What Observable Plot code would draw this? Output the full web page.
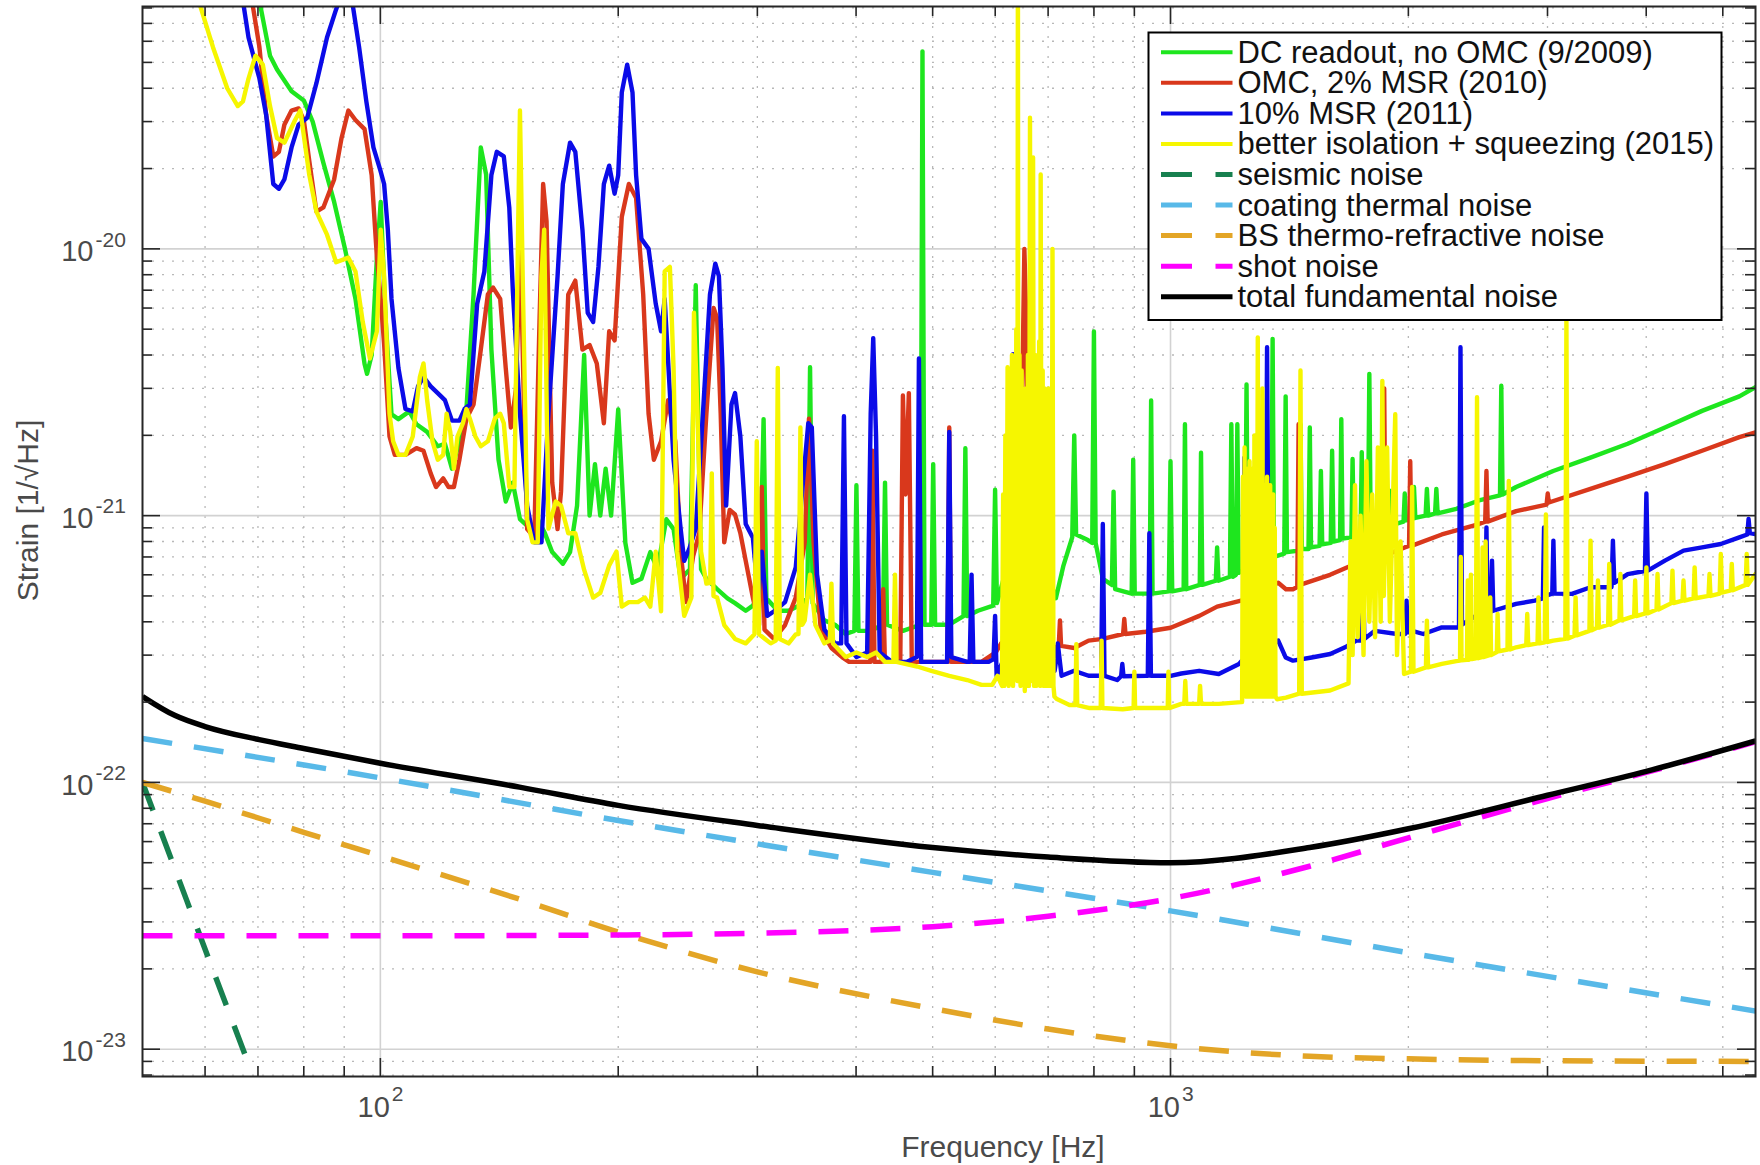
<!DOCTYPE html>
<html>
<head>
<meta charset="utf-8">
<script src="https://cdn.jsdelivr.net/npm/d3@7"></script>
<script src="https://cdn.jsdelivr.net/npm/@observablehq/plot@0.6"></script>
<style>
  html, body { margin: 0; padding: 0; background: #ffffff; }
  svg { display: block; }
</style>
</head>
<body>
<div id="chart"></div>
<script>
// ---------------- DATA (frequency [Hz], strain [1/sqrt(Hz)]) ----------------
const greenDC2009 = [
[50,3.0e-19],[62,1.8e-19],[68,1.1e-19],[70.3,8.5e-20],[72.5,5.3e-20],[74.0,4.7e-20],[77.2,3.9e-20],[80.0,3.6e-20],[82.1,3.0e-20],[84.7,2.1e-20],[87.4,1.5e-20],[90.2,1.0e-20],[93.0,6.5e-21],[95.5,3.7e-21],[96.2,3.4e-21],[97.5,4.0e-21],[99.0,9.3e-21],[100.1,1.5e-20],[101.6,5.3e-21],[103.3,2.4e-21],[105.4,2.3e-21],[108.8,2.46e-21],[111.1,2.2e-21],[114.6,2.06e-21],[118.2,1.82e-21],[120.7,1.86e-21],[123.2,1.5e-21],[125.9,1.9e-21],[128.5,2.5e-21],[131.2,6.75e-21],[134.0,2.4e-20],[136.1,1.9e-20],[138.2,4.2e-21],[141.1,1.62e-21],[144.1,1.13e-21],[147.1,1.33e-21],[150.2,9.7e-22],[155.0,8.9e-22],[158.2,9.7e-22],[161.5,8.6e-22],[165.0,7.3e-22],[170.2,6.6e-22],[173.8,7.3e-22],[177.4,1.09e-21],[181.1,4.0e-21],[184.0,1.0e-21],[186.9,1.56e-21],[189.8,1.0e-21],[192.8,1.5e-21],[195.9,1.0e-21],[200.0,2.5e-21],[204.2,7.9e-22],[208.5,5.6e-22],[214.0,5.8e-22],[219.6,7.3e-22],[224.2,6.3e-22],[230.1,9.7e-22],[235.0,8.9e-22],[239.9,5.8e-22],[246.5,6.3e-22],[250.7,7.3e-21],[254.6,6.3e-22],[258.6,5.8e-22],[266.8,5.3e-22],[275,4.9e-22],[281.1,4.7e-22],[290,4.4e-22],[296.1,4.6e-22],[302,5.1e-22],[305.5,2.3e-21],[308,4.9e-22],[318.4,4.4e-22],[328.6,4.4e-22],[339,4.6e-22],[347,4.9e-22],[349.8,3.6e-21],[352.5,4.7e-22],[364.7,4.05e-22],[376.2,3.9e-22],[388.1,3.6e-22],[398,3.7e-22],[400.4,1.3e-21],[402.8,3.7e-22],[417.4,3.7e-22],[432.5,3.9e-22],[435.2,1.33e-21],[437.8,3.9e-22],[458.5,3.7e-22],[482.5,3.9e-22],[485.4,5.5e-20],[488.3,3.9e-22],[498,3.9e-22],[500.8,1.56e-21],[503.6,3.9e-22],[524.8,3.9e-22],[547,4.2e-22],[550.0,1.79e-21],[553,4.2e-22],[570.5,4.4e-22],[596.5,4.6e-22],[599.8,1.25e-21],[603,4.7e-22],[616.8,6.0e-22],[650,6.0e-22],[700,6.0e-22],[716,4.9e-22],[732,6.5e-22],[751,8.3e-22],[755.4,2.0e-21],[759.5,8.5e-22],[786,8.1e-22],[796,7.9e-22],[800.0,4.9e-21],[804,7.9e-22],[821,5.8e-22],[843,5.5e-22],[847.1,1.23e-21],[851,5.3e-22],[893,5.1e-22],[897,1.62e-21],[901,5.1e-22],[930.5,5.1e-22],[941,5.1e-22],[945.1,2.7e-21],[949,5.1e-22],[995,5.2e-22],[1000,1.6e-21],[1005,5.2e-22],[1039,5.3e-22],[1043,2.2e-21],[1047,5.3e-22],[1089,5.5e-22],[1093,1.72e-21],[1097,5.5e-22],[1141,5.7e-22],[1145.5,7.6e-22],[1150,5.7e-22],[1189,5.9e-22],[1194,2.2e-21],[1199,5.9e-22],[1210,6.0e-22],[1215,2.2e-21],[1220,6.1e-22],[1243,6.3e-22],[1248,3.1e-21],[1253,6.4e-22],[1300,6.8e-22],[1341,6.9e-22],[1346.6,4.6e-21],[1352,7.0e-22],[1393,7.2e-22],[1398.7,2.8e-21],[1404,7.3e-22],[1455,7.4e-22],[1460.5,2.2e-21],[1466,7.5e-22],[1495,7.5e-22],[1500.7,2.14e-21],[1506,7.6e-22],[1544,7.7e-22],[1550,1.47e-21],[1556,7.8e-22],[1595,7.9e-22],[1601.5,1.75e-21],[1608,8.0e-22],[1639,8.1e-22],[1645,2.3e-21],[1651,8.2e-22],[1694,8.3e-22],[1700,1.63e-21],[1706,8.4e-22],[1740,8.5e-22],[1746,1.73e-21],[1752,8.6e-22],[1778,8.7e-22],[1785,3.4e-21],[1792,8.8e-22],[1887,9.1e-22],[1894,1.24e-21],[1901,9.2e-22],[1972,9.5e-22],[1979,1.21e-21],[1986,9.6e-22],[2025,9.7e-22],[2033,1.28e-21],[2041,9.8e-22],[2103,1.0e-21],[2111,1.26e-21],[2119,1.0e-21],[2162,1.02e-21],[2170,1.26e-21],[2178,1.02e-21],[2300,1.06e-21],[2457,1.14e-21],[2612,1.19e-21],[2622,3.07e-21],[2632,1.2e-21],[2738,1.28e-21],[3050,1.47e-21],[3400,1.65e-21],[3790,1.86e-21],[4224,2.14e-21],[4707,2.47e-21],[5247,2.8e-21],[5500,3.03e-21]
];

const redOMC2010 = [
[50,3.0e-19],[62,1.3e-19],[68.8,8.5e-20],[70.3,5.7e-20],[71.7,3.17e-20],[73.2,2.22e-20],[74.4,2.31e-20],[75.6,2.92e-20],[77.2,3.3e-20],[78.8,3.36e-20],[80.0,3.04e-20],[81.3,2.13e-20],[83.0,1.38e-20],[84.7,1.43e-20],[87.4,1.82e-20],[89.3,2.6e-20],[91.1,3.3e-20],[93.0,3.04e-20],[95.5,2.81e-20],[97.5,1.89e-20],[99.0,9.3e-21],[100.1,6.5e-21],[101.1,4.4e-21],[102.7,1.98e-21],[104.3,1.69e-21],[107.6,1.69e-21],[111.1,1.79e-21],[113.4,1.75e-21],[115.8,1.44e-21],[117.6,1.28e-21],[120.1,1.38e-21],[122.0,1.28e-21],[123.9,1.28e-21],[125.9,1.62e-21],[128.5,2.31e-21],[131.2,2.61e-21],[134.0,4.19e-21],[136.8,6.75e-21],[138.9,7.16e-21],[141.8,6.49e-21],[144.1,3.58e-21],[146.3,2.14e-21],[148.5,3.0e-21],[150.3,1.1e-20],[152,2.5e-21],[153.4,8.9e-22],[156.6,8.3e-22],[159,5.3e-21],[160.7,1.75e-20],[162.3,1.27e-20],[165.0,1.33e-21],[167.6,8.9e-22],[169.3,1.23e-21],[172.9,6.75e-21],[176.5,7.6e-21],[180.2,4.19e-21],[184.0,4.36e-21],[187.9,3.72e-21],[191.8,2.22e-21],[194.8,4.91e-21],[197.9,4.54e-21],[202.1,1.32e-20],[206.3,1.75e-20],[210.7,1.55e-20],[215.1,6.75e-21],[218.5,2.41e-21],[221.9,1.62e-21],[226.6,1.9e-21],[231.3,2.71e-21],[236.2,1.9e-21],[239.9,7.3e-22],[243.7,4.74e-22],[248.8,7.05e-22],[253.3,8.6e-22],[258.6,2.41e-21],[264.1,6.0e-21],[266.8,5.5e-21],[269.6,2.41e-21],[272.4,7.94e-22],[276.8,1.05e-21],[281.1,1.01e-21],[285.5,8.6e-22],[290.0,6.77e-22],[296.1,4.93e-22],[301.5,3.89e-22],[303.9,1.28e-21],[306.3,3.74e-22],[315,3.45e-22],[325.2,3.89e-22],[335.5,4.93e-22],[344.4,7.94e-22],[348.7,2.31e-21],[353.4,7.94e-22],[360.9,3.74e-22],[372.3,3.19e-22],[384,2.95e-22],[392,2.83e-22],[417,2.83e-22],[419.6,1.75e-21],[422,2.83e-22],[431,2.83e-22],[433,5.3e-22],[435,2.83e-22],[455,2.83e-22],[458.5,2.82e-21],[462,1.2e-21],[466.5,2.88e-21],[470.5,2.83e-22],[498.2,2.83e-22],[522,2.83e-22],[524.8,2.14e-21],[527.5,2.83e-22],[552.9,2.83e-22],[576.5,2.83e-22],[601,3.07e-22],[610.5,3.32e-22],[616.8,3.07e-22],[633.1,3.59e-22],[646,1.09e-21],[653.2,1.0e-20],[657,5.3e-21],[663.4,4.93e-22],[680.9,4.05e-22],[713.4,3.19e-22],[722,3.25e-22],[724.6,4.05e-22],[727,3.25e-22],[755.4,3.19e-22],[787.6,3.4e-22],[821,3.45e-22],[871,3.6e-22],[874,4.1e-22],[877,3.6e-22],[930.5,3.67e-22],[1000.5,3.8e-22],[1087.5,4.21e-22],[1145.5,4.56e-22],[1228,4.8e-22],[1300,5.2e-22],[1368.7,5.6e-22],[1400,5.3e-22],[1429,5.3e-22],[1447,5.4e-22],[1452.5,2.2e-21],[1458,5.5e-22],[1592,6.0e-22],[1756,6.8e-22],[1857,7.1e-22],[1864,3.0e-21],[1871,7.1e-22],[1979,7.6e-22],[2004,7.7e-22],[2011,1.6e-21],[2018,7.7e-22],[2205,8.5e-22],[2457,9.3e-22],[2502,9.5e-22],[2511,1.47e-21],[2520,9.5e-22],[2738,1.04e-21],[2992,1.1e-21],[3002,1.21e-21],[3012,1.12e-21],[3400,1.26e-21],[3790,1.4e-21],[4224,1.56e-21],[4707,1.75e-21],[5247,1.97e-21],[5500,2.05e-21]
];

const blueMSR2011 = [
[50,4.0e-19],[60,1.5e-19],[67.0,8.5e-20],[68.1,6.2e-20],[70.3,4.35e-20],[71.7,3.17e-20],[73.2,1.75e-20],[74.4,1.68e-20],[75.6,1.82e-20],[77.2,2.4e-20],[78.8,2.92e-20],[80.8,3.1e-20],[83.0,4.18e-20],[85.6,6.2e-20],[87.9,7.9e-20],[90.2,9.8e-20],[92.1,8.5e-20],[94,5.7e-20],[96.0,3.57e-20],[98.0,2.4e-20],[100,1.97e-20],[101.1,1.75e-20],[102.2,1.18e-20],[103.3,6.49e-21],[105.4,3.58e-21],[107.6,2.51e-21],[109.9,2.46e-21],[111.6,3.05e-21],[113.4,3.31e-21],[115.8,3.05e-21],[118.2,2.88e-21],[120.7,2.71e-21],[123.2,2.27e-21],[125.9,2.27e-21],[127.8,2.51e-21],[129.8,2.61e-21],[132.6,6.23e-21],[135.4,8.23e-21],[138.2,1.89e-20],[140.4,2.31e-20],[143.3,2.22e-20],[145.6,1.43e-20],[147.1,7.02e-21],[150.2,2.41e-21],[153.4,1.09e-21],[156.6,7.94e-22],[159.9,7.94e-22],[163.2,2.41e-21],[167.6,7.91e-21],[170.2,1.75e-20],[173.8,2.5e-20],[176.5,2.31e-20],[180.2,1.18e-20],[183.0,5.76e-21],[185.9,5.32e-21],[188.8,8.56e-21],[191.8,1.75e-20],[194.8,2.05e-20],[197.9,1.61e-20],[200.0,1.89e-20],[202.1,3.86e-20],[205.3,4.9e-20],[208.5,3.86e-20],[210.7,1.89e-20],[214.0,1.09e-20],[218.5,1.0e-20],[223.1,6.23e-21],[226.6,4.91e-21],[229.0,6.49e-21],[235.0,1.62e-21],[239.9,8.94e-22],[242.4,6.77e-22],[246,7.5e-22],[250.7,8.94e-22],[256,2.41e-21],[261.3,6.75e-21],[265.4,8.8e-21],[268.2,7.91e-21],[271,3.58e-21],[273.9,1.09e-21],[278.2,2.61e-21],[281.1,2.88e-21],[285.5,1.98e-21],[290.0,9.3e-22],[296.1,8.26e-22],[300.8,4.93e-22],[303.9,7.33e-22],[308.7,4.21e-22],[315,4.38e-22],[325.2,4.74e-22],[335.5,6.4e-22],[342.6,1.33e-21],[348.0,2.22e-21],[351.6,2.14e-21],[357,6.01e-22],[364.7,3.74e-22],[376.2,3.32e-22],[383,3.32e-22],[386.1,2.36e-21],[389,3.32e-22],[400.4,2.95e-22],[413.1,3.07e-22],[417.4,2.41e-21],[420.5,4.63e-21],[424,1.98e-21],[428.5,3.07e-22],[444.4,2.83e-22],[463.4,2.83e-22],[477.5,2.95e-22],[480.4,3.88e-21],[483.5,2.83e-22],[498.2,2.83e-22],[521.5,2.83e-22],[524.8,2.06e-21],[528,2.95e-22],[552.9,2.83e-22],[557,2.83e-22],[560,6.0e-22],[563,2.83e-22],[588.6,2.83e-22],[597,2.9e-22],[599.8,4.21e-22],[602.5,2.51e-22],[620,3.07e-22],[628,3.2e-22],[632,4.03e-21],[636,3.2e-22],[660,3.0e-22],[695,3.0e-22],[698,2.2e-21],[701,3.0e-22],[713.4,2.62e-22],[717,2.9e-22],[720,3.32e-22],[728,2.51e-22],[755.4,2.62e-22],[787.6,2.51e-22],[817,2.51e-22],[821,9.3e-22],[825,2.51e-22],[855.9,2.42e-22],[866,2.5e-22],[869,2.78e-22],[872,2.5e-22],[930.5,2.51e-22],[936,2.51e-22],[940.2,8.59e-22],[944.5,2.51e-22],[1000.5,2.51e-22],[1032,2.56e-22],[1087,2.62e-22],[1151,2.55e-22],[1221,2.78e-22],[1236,2.9e-22],[1240,1.65e-21],[1244,3.0e-22],[1300,3.2e-22],[1318,3.3e-22],[1325,4.28e-21],[1332,3.3e-22],[1368.7,3.4e-22],[1398.7,2.94e-22],[1429,2.86e-22],[1508.8,2.94e-22],[1592.7,3.03e-22],[1663,3.21e-22],[1718.5,3.4e-22],[1745,3.4e-22],[1752,7.0e-22],[1759,3.45e-22],[1814,3.7e-22],[1936,3.6e-22],[1982,3.6e-22],[1989.5,4.8e-22],[1997,3.65e-22],[2022,3.7e-22],[2089,3.6e-22],[2205,3.81e-22],[2318,3.81e-22],[2328,4.28e-21],[2338,3.9e-22],[2457,4.28e-22],[2502,4.3e-22],[2511,9.04e-22],[2520,4.3e-22],[2542,4.35e-22],[2552,6.78e-22],[2562,4.4e-22],[2738,4.67e-22],[2891,4.8e-22],[2960,4.9e-22],[2970,9.04e-22],[2980,5.0e-22],[3042,5.1e-22],[3052,8.06e-22],[3062,5.1e-22],[3221,5.09e-22],[3401,5.39e-22],[3615,5.39e-22],[3630,8.06e-22],[3645,5.6e-22],[3790,6.04e-22],[3985,6.2e-22],[4002,1.21e-21],[4019,6.22e-22],[4224,6.78e-22],[4459,7.39e-22],[4707,7.6e-22],[4971,7.83e-22],[5247,8.29e-22],[5370,8.5e-22],[5390,9.71e-22],[5410,8.6e-22],[5500,8.53e-22]
];

const yellowSqz2015 = [
[50,2.0e-19],[55,1.3e-19],[58.9,8.5e-20],[61.4,5.7e-20],[64.0,4.0e-20],[66.0,3.43e-20],[67.0,3.57e-20],[68.1,4.35e-20],[69.5,5.3e-20],[71.0,4.9e-20],[72.5,3.43e-20],[74.0,2.6e-20],[75.6,2.5e-20],[78.0,3.04e-20],[79.2,3.3e-20],[81.3,1.89e-20],[83.0,1.38e-20],[85.6,1.13e-20],[87.9,8.91e-21],[91.1,9.27e-21],[93.0,8.23e-21],[95.0,5.32e-21],[97.0,3.88e-21],[99.0,4.91e-21],[100.1,1.18e-20],[101.1,7.91e-21],[102.7,2.41e-21],[103.8,1.9e-21],[105.4,1.69e-21],[107.6,1.69e-21],[109.9,1.98e-21],[112.2,3.31e-21],[113.4,3.72e-21],[114.6,2.71e-21],[116.4,1.9e-21],[118.2,1.62e-21],[120.1,1.69e-21],[121.3,2.41e-21],[122.6,2.06e-21],[123.9,1.5e-21],[125.2,1.98e-21],[127.2,2.22e-21],[128.5,2.51e-21],[129.8,2.31e-21],[131.9,1.98e-21],[134.0,1.82e-21],[136.8,1.9e-21],[139.6,2.31e-21],[141.8,2.41e-21],[143.3,2.22e-21],[145.6,1.28e-21],[147.8,1.28e-21],[149.4,1.18e-20],[150.2,3.3e-20],[151.4,7.91e-21],[153.4,9.67e-22],[155.8,7.94e-22],[158.2,7.94e-22],[159.9,7.91e-21],[161.2,1.18e-20],[163.2,8.94e-22],[166.7,1.13e-21],[169.3,1.09e-21],[172.9,8.59e-22],[176.5,8.59e-22],[181.1,6.26e-22],[185.9,4.93e-22],[189.8,5.13e-22],[194.8,6.51e-22],[199.0,7.33e-22],[202.1,4.56e-22],[206.3,4.74e-22],[211.8,4.74e-22],[216.2,4.93e-22],[219.6,4.56e-22],[223.1,7.33e-22],[226.6,4.38e-22],[229.0,8.23e-21],[232.5,8.56e-21],[235.0,3.58e-21],[237.5,7.33e-22],[242.4,4.21e-22],[247.5,4.93e-22],[249.4,5.76e-21],[252,2.41e-21],[254.6,7.33e-22],[258.6,5.56e-22],[261.5,5.6e-22],[262.7,1.44e-21],[264,5.0e-22],[266.8,4.93e-22],[272.4,3.89e-22],[281.1,3.45e-22],[290.0,3.32e-22],[297.5,3.59e-22],[299.5,1.9e-21],[301.5,3.59e-22],[311.9,3.32e-22],[316.5,3.4e-22],[318.4,3.58e-21],[320.3,3.45e-22],[328.6,3.32e-22],[335.5,3.59e-22],[338.2,3.6e-22],[340.1,2.14e-21],[342,3.9e-22],[344.4,4.05e-22],[349.8,6.01e-22],[355.3,3.89e-22],[364.7,3.32e-22],[370.5,3.4e-22],[372.3,5.56e-22],[374,3.32e-22],[388.1,2.95e-22],[400.4,3.07e-22],[413.1,2.95e-22],[424,3.07e-22],[435.2,2.83e-22],[446,2.83e-22],[448,6.01e-22],[450,2.83e-22],[477.9,2.72e-22],[498.2,2.62e-22],[524.8,2.51e-22],[552.9,2.42e-22],[576.5,2.32e-22],[594.8,2.32e-22],[604,2.51e-22],[608,2.4e-22],
[612,2.3e-22],[614,1.2e-21],[616,2.3e-22],[618,2.0e-21],[620,2.4e-22],[622,3.6e-21],[624,2.3e-22],[626,2.5e-21],[628,2.4e-22],[630,4.0e-21],[632,2.3e-22],[634,3.0e-21],[636,2.5e-22],[638,5.0e-21],[640,2.4e-22],[641,1.5e-19],[642,2.4e-22],[644,4.0e-21],[646,2.3e-22],[648,3.5e-21],[650,2.4e-22],[652,2.5e-21],[654,2.2e-22],[656,3.0e-21],[658,2.3e-22],[660,4.0e-21],[662,2.3e-22],[664,3.1e-20],[666,2.4e-22],[668,5.0e-21],[670,2.2e-20],[672,2.3e-22],[674,4.0e-21],[676,2.3e-22],[678,3.0e-21],[680,2.4e-22],[682,4.5e-21],[684,2.3e-22],[685,1.9e-20],[687,2.4e-22],[689,3.5e-21],[691,2.3e-22],[693,3.0e-21],[695,2.3e-22],[697,2.5e-21],[699,2.3e-22],[701,3.0e-21],[703,2.3e-22],[705,2.0e-21],[707,2.3e-22],[709,1.0e-20],[711,2.3e-22],[713,2.1e-22],
[717,2.06e-22],[745,1.95e-22],[758,1.95e-22],[760,3.3e-22],[762,1.95e-22],[790,1.9e-22],[816,1.9e-22],[818,3.4e-22],[820,1.9e-22],[870,1.88e-22],[898,1.9e-22],[900,2.6e-22],[902,1.9e-22],[950,1.9e-22],[992,1.9e-22],[994,2.6e-22],[996,1.9e-22],[1032,1.97e-22],[1041,1.97e-22],[1044,2.4e-22],[1047,1.97e-22],[1087,1.97e-22],[1090,2.3e-22],[1093,1.97e-22],[1151,1.97e-22],[1228,2.0e-22],
[1232,2.0e-22],[1235,1.4e-21],[1238,2.1e-22],[1241,1.8e-21],[1244,2.1e-22],[1247,1.5e-21],[1250,2.1e-22],[1253,1.2e-21],[1256,2.1e-22],[1259,1.6e-21],[1262,2.1e-22],[1265,1.5e-21],[1268,2.1e-22],[1271,1.3e-21],[1274,2.1e-22],[1277,2.0e-21],[1280,2.1e-22],[1283,1.8e-21],[1286,2.1e-22],[1289.6,4.66e-21],[1292,2.1e-22],[1295,2.5e-21],[1298,2.1e-22],[1301,1.4e-21],[1304,2.1e-22],[1307,3.0e-21],[1310,2.1e-22],[1313,1.3e-21],[1316,2.1e-22],[1319,1.2e-21],[1322,2.1e-22],[1325,1.4e-21],[1328,2.1e-22],[1331,1.1e-21],[1334,2.1e-22],[1337,1.3e-21],[1340,2.1e-22],[1343,1.0e-21],[1346,2.1e-22],[1349,1.2e-21],[1352,2.1e-22],[1355,9.0e-22],[1358,2.1e-22],[1364,2.05e-22],
[1400,2.08e-22],[1455,2.15e-22],[1460.5,3.5e-21],[1466,2.15e-22],[1592,2.21e-22],[1680,2.35e-22],[1690,8.0e-22],[1700,3.0e-22],[1712,1.3e-21],[1725,3.5e-22],[1740,1.0e-21],[1755,3.0e-22],[1770,1.6e-21],[1785,4.0e-22],[1800,1.2e-21],[1815,3.5e-22],[1830,1.8e-21],[1845,4.0e-22],[1854,3.2e-21],[1862,5.0e-22],[1880,1.8e-21],[1895,4.0e-22],[1925,2.4e-21],[1935,3.0e-22],[1955,8.0e-22],[1975,2.55e-22],[2015,2.6e-22],[2022,1.28e-21],[2030,2.6e-22],[2105,2.7e-22],[2111,4.04e-22],[2118,2.7e-22],[2205,2.78e-22],[2300,2.85e-22],[2325,2.86e-22],[2330,7.0e-22],[2335,2.87e-22],[2372,2.88e-22],[2378,5.71e-22],[2384,2.88e-22],[2394,2.9e-22],[2400,6.0e-22],[2406,2.9e-22],[2435,2.92e-22],[2443,2.78e-21],[2451,2.92e-22],[2477,2.95e-22],[2483,7.6e-22],[2489,2.95e-22],[2500,2.96e-22],[2505,8.0e-22],[2510,2.97e-22],[2533,3.0e-22],[2539,4.94e-22],[2545,3.0e-22],[2588,3.08e-22],[2594,4.28e-22],[2600,3.1e-22],[2670,3.15e-22],[2680,1.35e-21],[2690,3.15e-22],[2738,3.21e-22],[2820,3.27e-22],[2828,4.28e-22],[2836,3.27e-22],[2914,3.32e-22],[2922,4.94e-22],[2930,3.32e-22],[2976,3.35e-22],[2986,1.01e-21],[2996,3.36e-22],[3051,3.4e-22],[3160,3.45e-22],[3170,5.38e-21],[3180,3.46e-22],[3246,3.55e-22],[3256,4.94e-22],[3266,3.56e-22],[3390,3.7e-22],[3401,8.06e-22],[3412,3.72e-22],[3465,3.8e-22],[3475,5.71e-22],[3485,3.8e-22],[3580,3.9e-22],[3591,6.59e-22],[3602,3.9e-22],[3700,4.05e-22],[3710,6.04e-22],[3720,4.05e-22],[3862,4.2e-22],[3873,5.71e-22],[3884,4.2e-22],[3990,4.3e-22],[4002,6.4e-22],[4014,4.3e-22],[4122,4.45e-22],[4134,6.04e-22],[4146,4.45e-22],[4305,4.7e-22],[4318,6.22e-22],[4331,4.7e-22],[4446,4.8e-22],[4459,5.71e-22],[4472,4.8e-22],[4592,4.9e-22],[4606,6.4e-22],[4620,4.9e-22],[4796,5.0e-22],[4810,6.04e-22],[4824,5.0e-22],[4955,5.1e-22],[4971,7.18e-22],[4987,5.15e-22],[5118,5.25e-22],[5133,6.59e-22],[5148,5.25e-22],[5345,5.5e-22],[5361,7.18e-22],[5377,5.5e-22],[5500,6.04e-22]
];

const seismicNoise = [[50,1.0e-22],[57,3.55e-23],[68.1,8.8e-24]];
const coatingThermal = [[50,1.46e-22],[100,1.04e-22],[200,7.2e-23],[500,4.6e-23],[1000,3.3e-23],[2000,2.3e-23],[5500,1.39e-23]];
const bsThermoRefractive = [[50,1.0e-22],[60,8.5e-23],[80,6.5e-23],[100,5.3e-23],[150,3.65e-23],[200,2.75e-23],[300,1.95e-23],[500,1.42e-23],[700,1.19e-23],[1000,1.03e-23],[1500,9.4e-24],[2000,9.2e-24],[3000,9.05e-24],[5500,9.0e-24]];
const shotNoise = [[50,2.66e-23],[100,2.66e-23],[200,2.68e-23],[300,2.72e-23],[500,2.88e-23],[700,3.15e-23],[1000,3.67e-23],[1500,4.85e-23],[2000,6.2e-23],[3000,8.7e-23],[4000,1.09e-22],[5500,1.42e-22]];
const totalNoise = [[50,2.1e-22],[55,1.78e-22],[60,1.62e-22],[70,1.45e-22],[80,1.34e-22],[100,1.18e-22],[150,9.6e-23],[200,8.2e-23],[300,6.9e-23],[500,5.7e-23],[700,5.25e-23],[1000,5.0e-23],[1500,5.7e-23],[2000,6.7e-23],[3000,8.95e-23],[4000,1.1e-22],[5500,1.43e-22]];

// axis ticks
const xMajor = [100, 1000];
const xMinor = [60,70,80,90,200,300,400,500,600,700,800,900,2000,3000,4000,5000];
const yMajor = [1e-23, 1e-22, 1e-21, 1e-20];
const yMinor = [8e-24,9e-24,2e-23,3e-23,4e-23,5e-23,6e-23,7e-23,8e-23,9e-23,2e-22,3e-22,4e-22,5e-22,6e-22,7e-22,8e-22,9e-22,2e-21,3e-21,4e-21,5e-21,6e-21,7e-21,8e-21,9e-21,2e-20,3e-20,4e-20,5e-20,6e-20,7e-20,8e-20];
const xTickExp = ["2", "3"];
const yTickExp = ["-23", "-22", "-21", "-20"];
const tickBase = "10";

const xLabel = "Frequency [Hz]";
const yLabel = "Strain [1/\u221AHz]";

const legendLabels = ["DC readout, no OMC (9/2009)","OMC, 2% MSR (2010)","10% MSR (2011)","better isolation + squeezing (2015)","seismic noise","coating thermal noise","BS thermo-refractive noise","shot noise","total fundamental noise"];
const legendColors = ["#1ee61e","#d9381c","#0b0be8","#f6f600","#17804f","#58b9e8","#e3a526","#ff00ff","#000000"];
const legendDashed = [false,false,false,false,true,true,true,true,false];

// ---------------- LAYOUT ----------------
const W = 1760, H = 1165;
const mL = 142, mT = 6, mR = 5, mB = 89;
const plotW = W - mL - mR, plotH = H - mT - mB;
const FONT = "'Liberation Sans', Arial, Helvetica, sans-serif";
const rows = (arr) => arr.map(([f, h]) => ({f, h}));

const measured = (data, color) => Plot.line(rows(data), {x: "f", y: "h", stroke: color, strokeWidth: 4.4, strokeLinejoin: "round", strokeLinecap: "round", clip: true});
const theory = (data, color, dashed) => Plot.line(rows(data), {x: "f", y: "h", stroke: color, strokeWidth: 5.5, curve: "monotone-x", strokeLinecap: "butt", strokeDasharray: dashed ? "30,22" : null, clip: true});

const tickColor = "#262626";
const labelColor = "#4a4a4a";

const chart = Plot.plot({
  width: W, height: H,
  marginLeft: mL, marginRight: mR, marginTop: mT, marginBottom: mB,
  x: {type: "log", domain: [50, 5500], axis: null},
  y: {type: "log", domain: [7.9e-24, 8.1e-20], axis: null},
  style: {fontFamily: FONT, background: "#ffffff", overflow: "visible"},
  marks: [
    // grid
    Plot.ruleX(xMinor, {stroke: "#b8b8b8", strokeWidth: 1.3, strokeDasharray: "2,8"}),
    Plot.ruleY(yMinor, {stroke: "#b8b8b8", strokeWidth: 1.3, strokeDasharray: "2,8"}),
    Plot.ruleX(xMajor, {stroke: "#d2d2d2", strokeWidth: 1.6}),
    Plot.ruleY(yMajor, {stroke: "#d2d2d2", strokeWidth: 1.6}),
    // measured spectra
    measured(greenDC2009, legendColors[0]),
    measured(redOMC2010, legendColors[1]),
    measured(blueMSR2011, legendColors[2]),
    measured(yellowSqz2015, legendColors[3]),
    // noise budget
    theory(seismicNoise, legendColors[4], true),
    theory(coatingThermal, legendColors[5], true),
    theory(bsThermoRefractive, legendColors[6], true),
    theory(shotNoise, legendColors[7], true),
    theory(totalNoise, legendColors[8], false),
    // inward ticks on all four sides
    Plot.tickX(xMajor, {x: d => d, insetTop: plotH - 18, stroke: tickColor, strokeWidth: 1.6}),
    Plot.tickX(xMinor, {x: d => d, insetTop: plotH - 10, stroke: tickColor, strokeWidth: 1.6}),
    Plot.tickX(xMajor, {x: d => d, insetBottom: plotH - 18, stroke: tickColor, strokeWidth: 1.6}),
    Plot.tickX(xMinor, {x: d => d, insetBottom: plotH - 10, stroke: tickColor, strokeWidth: 1.6}),
    Plot.tickY(yMajor, {y: d => d, insetRight: plotW - 18, stroke: tickColor, strokeWidth: 1.6}),
    Plot.tickY(yMinor, {y: d => d, insetRight: plotW - 10, stroke: tickColor, strokeWidth: 1.6}),
    Plot.tickY(yMajor, {y: d => d, insetLeft: plotW - 18, stroke: tickColor, strokeWidth: 1.6}),
    Plot.tickY(yMinor, {y: d => d, insetLeft: plotW - 10, stroke: tickColor, strokeWidth: 1.6}),
    Plot.frame({stroke: tickColor, strokeWidth: 2}),
    // tick labels
    Plot.text(yMajor, {y: d => d, text: () => tickBase, frameAnchor: "left", textAnchor: "end", lineAnchor: "middle", dx: -49, dy: 3, fontSize: 29, fill: labelColor}),
    Plot.text(yMajor, {y: d => d, text: (d, i) => yTickExp[i], frameAnchor: "left", textAnchor: "start", lineAnchor: "middle", dx: -47, dy: -9, fontSize: 21, fill: labelColor}),
    Plot.text(xMajor, {x: d => d, text: () => tickBase, frameAnchor: "bottom", textAnchor: "end", lineAnchor: "middle", dx: 9.5, dy: 31, fontSize: 29, fill: labelColor}),
    Plot.text(xMajor, {x: d => d, text: (d, i) => xTickExp[i], frameAnchor: "bottom", textAnchor: "start", lineAnchor: "middle", dx: 11.5, dy: 18, fontSize: 21, fill: labelColor}),
    // axis titles
    Plot.text([xLabel], {text: d => d, frameAnchor: "bottom", textAnchor: "middle", lineAnchor: "middle", dx: 54, dy: 71, fontSize: 30, fill: labelColor}),
    Plot.text([yLabel], {text: d => d, frameAnchor: "left", textAnchor: "middle", lineAnchor: "middle", rotate: -90, dx: -114, dy: -31, fontSize: 30, fill: labelColor})
  ]
});

// ---------------- LEGEND (inside the axes, top right) ----------------
const svg = d3.select(chart);
const lg = svg.append("g").attr("class", "legend").attr("text-anchor", "start");
lg.append("rect").attr("x", 1148.5).attr("y", 32.5).attr("width", 573).attr("height", 287.5)
  .attr("fill", "#ffffff").attr("stroke", "#000000").attr("stroke-width", 2);
legendLabels.forEach((label, i) => {
  const cy = 52.3 + i * 30.55;
  lg.append("line").attr("x1", 1161).attr("x2", 1232.5).attr("y1", cy).attr("y2", cy)
    .attr("stroke", legendColors[i]).attr("stroke-width", legendDashed[i] || i === 8 ? 5 : 4)
    .attr("stroke-dasharray", legendDashed[i] ? "31,23.5" : null);
  lg.append("text").attr("x", 1237.5).attr("y", cy + 10.5).attr("font-size", 31)
    .attr("text-anchor", "start")
    .attr("font-family", FONT).attr("fill", "#111111").text(label);
});

document.getElementById("chart").appendChild(chart);
</script>
</body>
</html>
